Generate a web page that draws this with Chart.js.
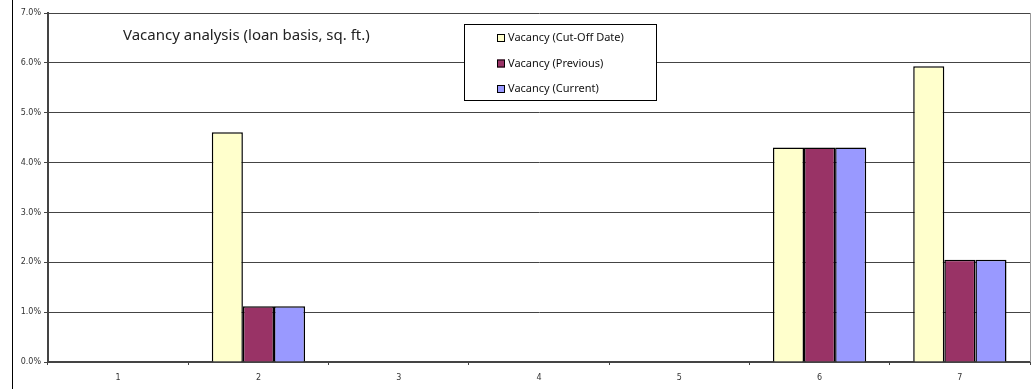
<!DOCTYPE html>
<html>
<head>
<meta charset="utf-8">
<script src="https://cdn.jsdelivr.net/npm/chart.js@4"></script>
<style>
  html, body { margin: 0; padding: 0; background: #fff; }
  #wrap { position: relative; width: 1032px; height: 389px; }
  #edge { position: absolute; left: 12px; top: 0; width: 1px; height: 389px; background: #000; }
</style>
</head>
<body>
<div id="wrap">
  <canvas id="myChart" width="1032" height="389"></canvas>
  <div id="edge"></div>
</div>
<script>
const categories = ['1', '2', '3', '4', '5', '6', '7'];
const cutOff = [0, 4.61, 0, 0, 0, 4.30, 5.93];
const previous = [0, 1.12, 0, 0, 0, 4.30, 2.05];
const current = [0, 1.12, 0, 0, 0, 4.30, 2.05];
const seriesNames = ['Vacancy (Cut-Off Date)', 'Vacancy (Previous)', 'Vacancy (Current)'];
const seriesColors = ['#FFFFCC', '#993366', '#9999FF'];
const chartTitle = 'Vacancy analysis (loan basis, sq. ft.)';

// title and boxed legend sit inside the plot like the original
const boxPlugin = {
  id: 'boxLegend',
  afterDraw(chart) {
    const ctx = chart.ctx;
    const area = chart.chartArea;
    ctx.save();
    // right border of plot
    ctx.strokeStyle = '#999';
    ctx.lineWidth = 1;
    ctx.beginPath();
    ctx.moveTo(area.right + 0.5, area.top);
    ctx.lineTo(area.right + 0.5, area.bottom);
    ctx.stroke();

    ctx.fillStyle = '#222';
    ctx.font = '15px "Noto Sans"';
    ctx.textBaseline = 'alphabetic';
    ctx.fillText(chartTitle, 123, 40);

    ctx.fillStyle = '#fff';
    ctx.fillRect(464, 24, 193, 77);
    ctx.strokeStyle = '#000';
    ctx.strokeRect(464.5, 24.5, 192, 76);
    ctx.font = '11px "Noto Sans"';
    ctx.textBaseline = 'middle';
    chart.data.datasets.forEach((ds, i) => {
      const y = 38 + i * 25.5;
      ctx.fillStyle = ds.backgroundColor;
      ctx.fillRect(497, y - 4, 8, 8);
      ctx.strokeRect(497.5, y - 3.5, 7, 7);
      ctx.fillStyle = '#111';
      ctx.fillText(ds.label, 508, y);
    });
    ctx.restore();
  }
};

new Chart(document.getElementById('myChart').getContext('2d'), {
  type: 'bar',
  data: {
    labels: categories,
    datasets: [
      { label: seriesNames[0], data: cutOff, backgroundColor: seriesColors[0] },
      { label: seriesNames[1], data: previous, backgroundColor: seriesColors[1] },
      { label: seriesNames[2], data: current, backgroundColor: seriesColors[2] }
    ]
  },
  options: {
    responsive: false,
    animation: false,
    layout: { padding: { left: 0, right: 2, top: 13, bottom: 0 } },
    datasets: {
      bar: {
        borderColor: '#000',
        borderWidth: 1.5,
        barPercentage: 1,
        categoryPercentage: 0.665
      }
    },
    plugins: {
      legend: { display: false },
      title: { display: false },
      tooltip: { enabled: false }
    },
    scales: {
      x: {
        grid: { drawOnChartArea: false, color: '#444', tickLength: 3 },
        border: { color: '#444', width: 2 },
        ticks: { color: '#333', font: { size: 8, family: 'DejaVu Sans' }, padding: 8 },
        afterFit: (s) => { s.height = 27; }
      },
      y: {
        min: 0,
        max: 7,
        grid: { color: '#444', tickLength: 4 },
        border: { color: '#444', width: 2 },
        ticks: {
          stepSize: 1,
          color: '#333',
          padding: 3,
          font: { size: 8, family: 'DejaVu Sans' },
          callback: (v) => v.toFixed(1) + '%'
        },
        afterFit: (s) => { s.width = 48; }
      }
    }
  },
  plugins: [boxPlugin]
});
</script>
</body>
</html>
